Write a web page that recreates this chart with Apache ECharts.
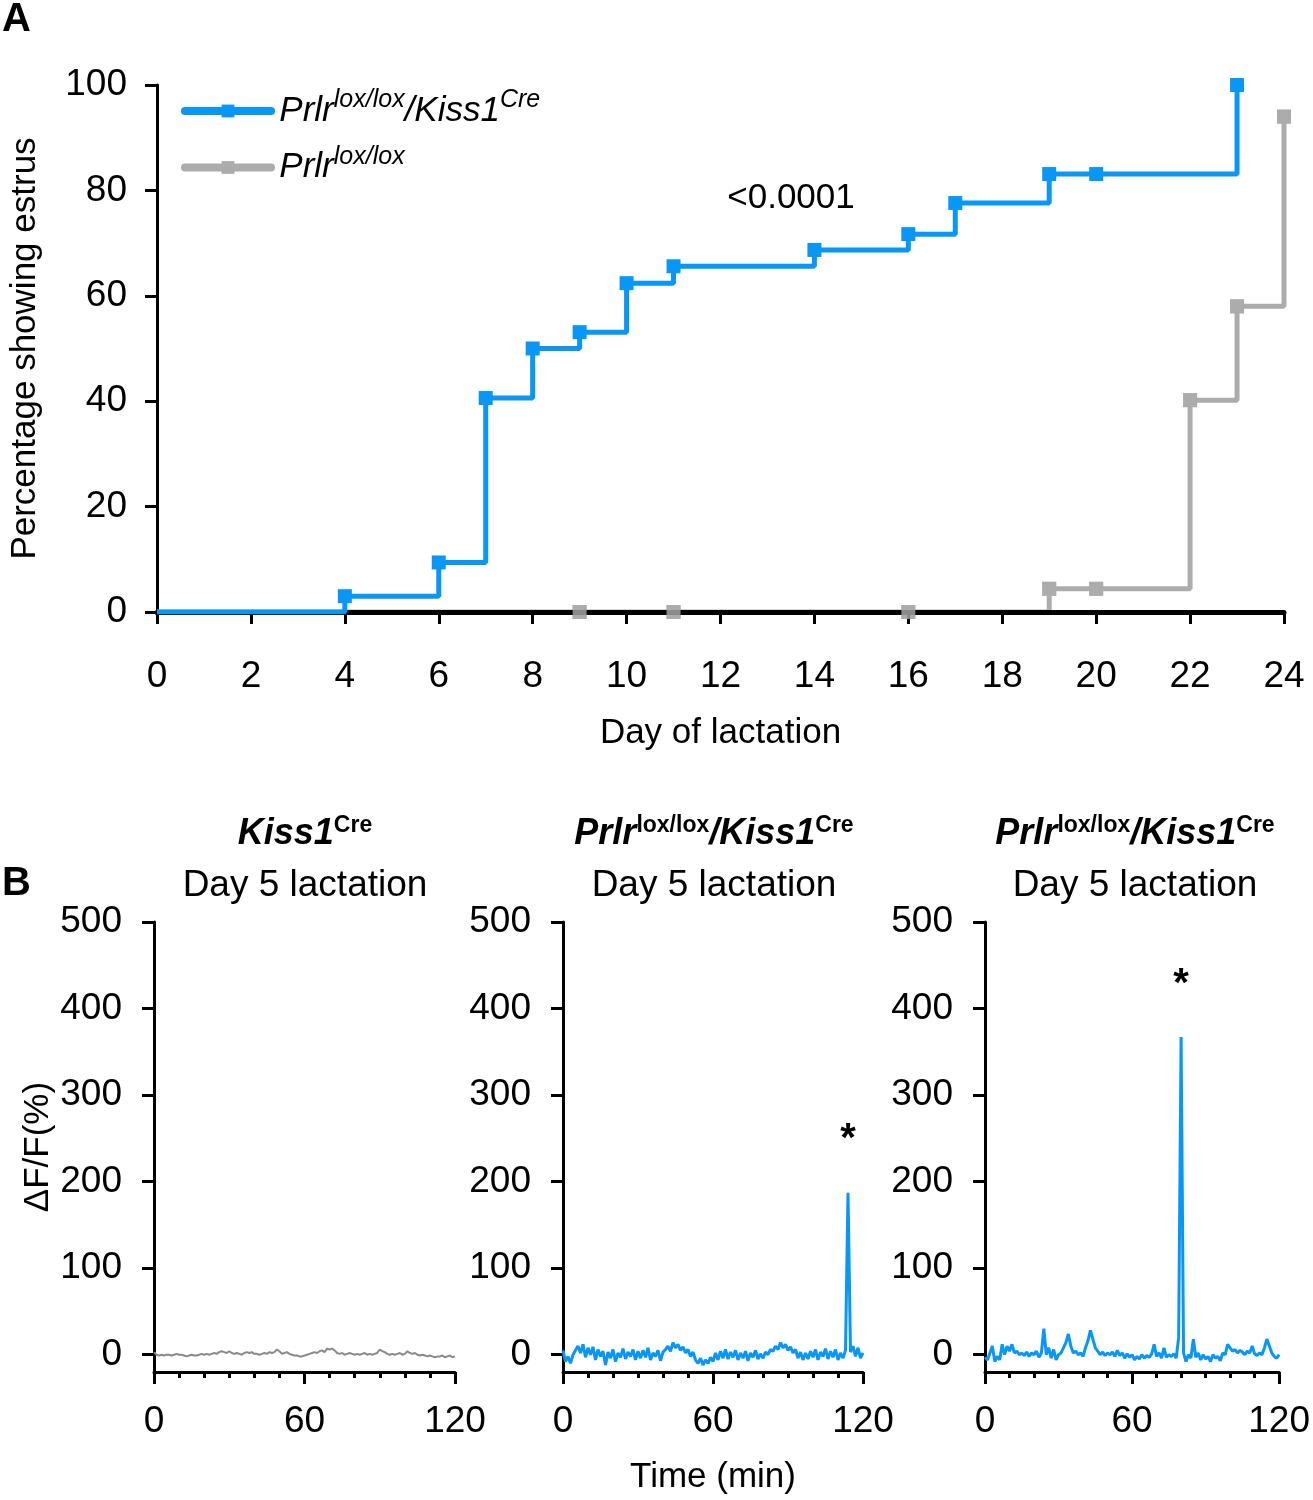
<!DOCTYPE html>
<html>
<head>
<meta charset="utf-8">
<script src="https://cdn.jsdelivr.net/npm/echarts@6/dist/echarts.min.js"></script>
<style>
html, body { margin: 0; padding: 0; background: #fff; }
#main { width: 1313px; height: 1500px; }
</style>
</head>
<body>
<div id="main"></div>
<script>
// panel A: day of lactation vs percentage showing estrus
var dayKO = [0, 4, 6, 7, 8, 9, 10, 11, 14, 16, 17, 19, 20, 23];
var pctKO = [0, 3, 9.4, 40.6, 50, 53.1, 62.4, 65.6, 68.7, 71.7, 77.6, 83.1, 83.1, 100];
var dayCtl = [0, 9, 11, 16, 19, 20, 22, 23, 24];
var pctCtl = [0, 0, 0, 0, 4.4, 4.4, 40.2, 58, 94];
var dayTicks = [0, 24, 2];

// panel B: dF/F (%) per minute, 0..120
var traceKiss = [
  3,
  0, -1, 0, -1, 0, 0, -1, 0, 1, 0,
  0, -1, -2, -1, 0, -1, -1, 0, 1, 0,
  1, 0, 1, 2, 1, 3, 4, 3, 2, 4,
  2, 1, 2, 1, 0, 2, 3, 2, 3, 1,
  1, 0, 1, 2, 1, 3, 2, 3, 6, 4,
  1, 2, 3, 1, 0, -1, -1, -2, -2, -1,
  0, 1, 2, 3, 2, 4, 5, 3, 7, 6,
  7, 5, 2, 1, 2, 0, 1, 2, 1, 0,
  1, 0, 1, 2, 0, 1, 0, 1, 2, 6,
  4, 3, 1, 0, 1, 0, 1, 2, 0, 1,
  4, 2, 1, 2, 0, -1, 0, -1, -2, -1,
  -2, -3, -2, -2, -1, -3, -2, -1, -3, -2
];
var traceKO1 = [
  5,
  -8, -2, -10, 0, 5, 10, 2, 12, -3, 8,
  0, 9, -6, 6, -2, 4, -12, 3, -4, 6,
  -8, 2, -3, 7, -5, 3, -2, 6, -6, 4,
  -4, 5, -3, 8, -6, 2, -2, 5, -7, 3,
  6, 10, 4, 14, 8, 12, 5, 9, 2, 6,
  -2, 3, -6, -10, -4, -12, -6, -10, -3, -8,
  2, -6, 4, -4, 6, -5, 3, -3, 5, -6,
  2, -4, 4, -7, 2, -3, 5, -5, 1, -4,
  3, 0, 6, 4, 10, 6, 14, 8, 12, 5,
  9, 2, 6, -4, 3, -6, 2, -5, 4, -3,
  6, -6, 3, -2, 7, -5, 4, -3, 6, -6,
  2, -4, 5, 187, 3, 10, -2, 8, -4, 2
];
var traceKO2 = [
  -3,
  -6, 2, 10, -8, -2, -6, 12, 0, 10, 4,
  12, 2, 4, 0, 2, -1, 3, -2, 2, 0,
  4, -3, 2, 30, 0, 8, -4, 6, -6, 0,
  2, 8, 14, 24, 10, 2, 4, 0, 2, -2,
  8, 16, 28, 18, 8, 4, 0, 3, -1, 2,
  0, 3, -2, 5, -1, 2, -4, 1, -3, 0,
  -6, -2, -5, 0, -4, -1, -3, 1, 12, -2,
  2, -4, 8, -3, 0, -2, 1, -4, 20, 367,
  2, -8, 0, -4, 18, -3, 2, -6, 0, -5,
  -2, -8, 0, -4, -2, -7, 2, 0, 12, 8,
  4, 6, 2, 5, 3, 0, 4, 2, 10, 1,
  -1, 2, 0, 8, 18, 10, 2, -2, -4, 0
];
var dffTicks = [0, 100, 200, 300, 400, 500];

var FONT = 'Liberation Sans, Arial, sans-serif';
var BLUE = '#0897f7';
var GREY = '#acacac';

function zip(xs, ys, skipFirst) {
  var out = [];
  for (var i = skipFirst ? 1 : 0; i < xs.length; i++) {
    var d = { value: [xs[i], ys[i]] };
    if (i === 0) d.symbol = 'none';
    out.push(d);
  }
  return out;
}
function perMinute(vals) {
  return vals.map(function (v, i) { return [i, v]; });
}

var axisLine = { lineStyle: { color: '#000', width: 3 } };
var tickLine = { color: '#000', width: 3 };

// the three small trace panels share most settings
var bLeft = [154, 563, 985];
var bWidth = [301, 300, 299];
var grids = [{ left: 154, width: 1130, top: 85, height: 527 }];
var xAxes = [{
  gridIndex: 0, type: 'value', min: dayTicks[0], max: dayTicks[1], interval: dayTicks[2], z: 1,
  axisLine: { lineStyle: { color: '#000', width: 5 } },
  axisTick: { show: true, length: 12, lineStyle: tickLine },
  axisLabel: { fontSize: 37, color: '#000', fontFamily: FONT, margin: 46 },
  splitLine: { show: false },
  name: 'Day of lactation', nameLocation: 'middle', nameGap: 104,
  nameTextStyle: { fontSize: 35, color: '#000', fontFamily: FONT }
}];
var yAxes = [{
  gridIndex: 0, type: 'value', min: 0, max: 100, interval: 20,
  axisLine: axisLine, axisTick: { show: true, length: 12, lineStyle: tickLine },
  axisLabel: { fontSize: 37, color: '#000', fontFamily: FONT, margin: 30 },
  splitLine: { show: false },
  name: 'Percentage showing estrus', nameLocation: 'middle', nameGap: 114,
  nameTextStyle: { fontSize: 35, color: '#000', fontFamily: FONT }
}];
for (var k = 0; k < 3; k++) {
  grids.push({ left: bLeft[k], width: bWidth[k], top: 922, height: 450 });
  xAxes.push({
    gridIndex: k + 1, type: 'value', min: 0, max: 120, interval: 60,
    axisLine: { onZero: false, lineStyle: { color: '#000', width: 3 } },
    axisTick: { show: true, length: 12, lineStyle: tickLine },
    minorTick: { show: true, splitNumber: 6, length: 6, lineStyle: tickLine },
    axisLabel: { fontSize: 37, color: '#000', fontFamily: FONT, margin: 31 },
    splitLine: { show: false },
    name: k === 1 ? 'Time (min)' : '', nameLocation: 'middle', nameGap: 88,
    nameTextStyle: { fontSize: 35, color: '#000', fontFamily: FONT }
  });
  yAxes.push({
    gridIndex: k + 1, type: 'value', min: -20, max: 500,
    axisLine: axisLine,
    axisTick: { show: true, length: 12, customValues: dffTicks, lineStyle: tickLine },
    axisLabel: { fontSize: 37, color: '#000', fontFamily: FONT, margin: 32, customValues: dffTicks },
    splitLine: { show: false },
    name: k === 0 ? 'ΔF/F(%)' : '', nameLocation: 'middle', nameGap: 98,
    nameTextStyle: { fontSize: 35, color: '#000', fontFamily: FONT }
  });
}

var star = {
  symbol: 'circle', symbolSize: 1, itemStyle: { color: 'rgba(0,0,0,0)' },
  label: { show: true, position: 'top', distance: 32, formatter: '*', fontSize: 40,
    fontWeight: 'bold', color: '#000', fontFamily: FONT },
  data: [{ type: 'max' }]
};

var titleRich = {
  b: { fontSize: 36, fontWeight: 'bold', fontStyle: 'italic', color: '#000', fontFamily: FONT, lineHeight: 40 },
  s: { fontSize: 23, fontWeight: 'bold', color: '#000', fontFamily: FONT, lineHeight: 40, verticalAlign: 'top' },
  n: { fontSize: 37, fontWeight: 'normal', color: '#000', fontFamily: FONT, lineHeight: 64 }
};
var titleKO = '{b|Prlr}{s|lox/lox}{b|/Kiss1}{s|Cre}\n{n|Day 5 lactation}';

var legendRich = {
  i: { fontSize: 35, fontStyle: 'italic', color: '#000', fontFamily: FONT, lineHeight: 46 },
  s: { fontSize: 25, fontStyle: 'italic', color: '#000', fontFamily: FONT, lineHeight: 46, verticalAlign: 'top' }
};

var chart = echarts.init(document.getElementById('main'));
chart.setOption({
  backgroundColor: '#fff',
  animation: false,
  title: [
    { text: 'A', left: 2, top: 0, padding: 0, textStyle: { fontSize: 40, fontWeight: 'bold', fontFamily: FONT, color: '#000' } },
    { text: 'B', left: 2, top: 864, padding: 0, textStyle: { fontSize: 40, fontWeight: 'bold', fontFamily: FONT, color: '#000' } },
    { text: '{b|Kiss1}{s|Cre}\n{n|Day 5 lactation}', left: 305, top: 814, padding: 0, textAlign: 'center', textStyle: { rich: titleRich } },
    { text: titleKO, left: 714, top: 814, padding: 0, textAlign: 'center', textStyle: { rich: titleRich } },
    { text: titleKO, left: 1135, top: 814, padding: 0, textAlign: 'center', textStyle: { rich: titleRich } }
  ],
  legend: {
    orient: 'vertical', left: 176, top: 83, itemWidth: 86, itemHeight: 16, itemGap: 16,
    data: ['KO', 'Control'],
    lineStyle: { width: 8, cap: 'round' },
    formatter: function (name) {
      return name === 'KO' ? ' {i|Prlr}{s|lox/lox}{i|/Kiss1}{s|Cre}' : ' {i|Prlr}{s|lox/lox}';
    },
    textStyle: { rich: legendRich }
  },
  graphic: [
    { type: 'text', x: 791, y: 198, style: { text: '<0.0001', font: '35px ' + FONT, fill: '#000', align: 'center', verticalAlign: 'middle' } }
  ],
  grid: grids,
  xAxis: xAxes,
  yAxis: yAxes,
  series: [
    {
      // the flat part at 0 sits under the axis line
      name: 'Control', type: 'line', step: 'end', xAxisIndex: 0, yAxisIndex: 0, z: 0,
      data: zip(dayCtl, pctCtl), color: GREY,
      lineStyle: { width: 5, color: GREY }, symbol: 'rect', symbolSize: 14,
      itemStyle: { color: GREY }
    },
    {
      // censor marks drawn over the axis
      type: 'scatter', xAxisIndex: 0, yAxisIndex: 0, z: 3,
      data: zip(dayCtl, pctCtl, true), symbol: 'rect', symbolSize: 14,
      itemStyle: { color: GREY }
    },
    {
      name: 'KO', type: 'line', step: 'end', xAxisIndex: 0, yAxisIndex: 0, z: 4,
      data: zip(dayKO, pctKO), color: BLUE,
      lineStyle: { width: 5, color: BLUE }, symbol: 'rect', symbolSize: 14,
      itemStyle: { color: BLUE }
    },
    {
      type: 'line', xAxisIndex: 1, yAxisIndex: 1, data: perMinute(traceKiss),
      showSymbol: false, lineStyle: { width: 2, color: '#8a8a8a' }
    },
    {
      type: 'line', xAxisIndex: 2, yAxisIndex: 2, data: perMinute(traceKO1),
      showSymbol: false, lineStyle: { width: 3, color: BLUE }, markPoint: star
    },
    {
      type: 'line', xAxisIndex: 3, yAxisIndex: 3, data: perMinute(traceKO2),
      showSymbol: false, lineStyle: { width: 3, color: BLUE }, markPoint: star
    }
  ]
});
</script>
</body>
</html>
